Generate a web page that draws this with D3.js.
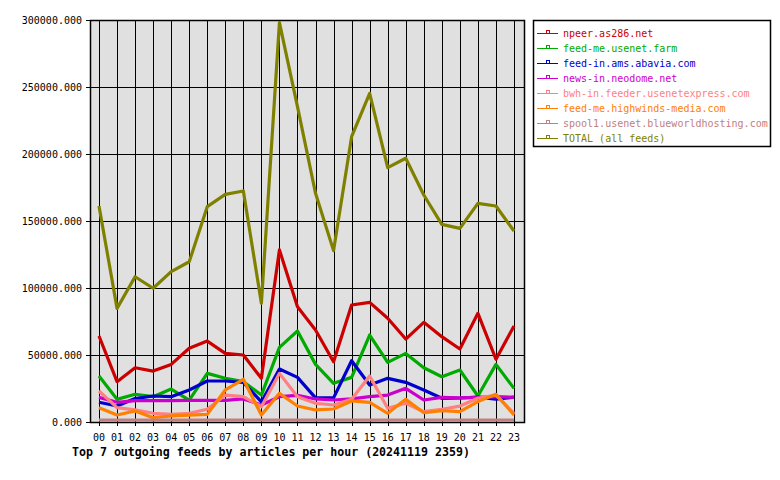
<!DOCTYPE html>
<html><head><meta charset="utf-8">
<script src="https://cdn.jsdelivr.net/npm/d3@7"></script>
<style>body{margin:0;background:#fff}svg{display:block}text{font-family:"DejaVu Sans Mono",monospace}</style>
</head><body><svg id="c" width="780" height="480"></svg>
<script>
const hours = ["00","01","02","03","04","05","06","07","08","09","10","11","12","13","14","15","16","17","18","19","20","21","22","23"];
const yTicks = [0,50000,100000,150000,200000,250000,300000];
const seriesNames = ["npeer.as286.net","feed-me.usenet.farm","feed-in.ams.abavia.com","news-in.neodome.net","bwh-in.feeder.usenetexpress.com","feed-me.highwinds-media.com","spool1.usenet.blueworldhosting.com","TOTAL (all feeds)"];
const seriesColors = ["#cc0000","#00aa00","#0000cc","#cc00cc","#ff8080","#ff8000","#c08080","#808000"];
const npeer = [64200,30100,40500,38000,43000,55000,60400,51200,50000,32600,128400,86000,68700,45000,87300,89300,77400,61900,74400,63700,54500,81100,46800,71600];
const feedMeFarm = [34300,16900,20700,18900,24600,16400,36300,32600,30100,20100,55700,67900,43000,28900,33300,64900,44500,51200,40500,33800,38800,19400,43000,25100];
const abavia = [14700,11900,17500,19400,18900,23900,30600,30600,29500,15000,39500,33300,18000,18000,45700,27600,32600,29600,23900,17700,17900,18500,17000,18500];
const neodome = [18400,14700,15900,15900,15900,16200,16200,16200,17200,12700,18900,19900,17200,16400,17200,18900,20100,25100,16400,18400,18000,18400,18900,18400];
const usenetexpress = [23100,10700,9000,6500,5700,6500,9500,20100,18900,11400,36300,18900,14000,12700,16900,34300,10200,14000,7700,9500,11900,17700,20100,6500];
const highwinds = [10700,5200,8200,3200,4500,5200,5700,23900,31900,5200,21400,11900,9000,9700,15700,14700,6500,16900,6900,8400,7700,15200,20700,5200];
const spool1 = [1500,1500,1500,1500,1500,1500,1500,1500,1500,1500,1500,1500,1500,1500,1500,1500,1500,1500,1500,1500,1500,1500,1500,1500];
const total = [161200,84800,108400,99800,112200,119600,160700,169900,172400,88600,298000,235300,170700,127900,212900,245300,189800,196800,169400,147500,144500,163200,161200,142500];
const title = "Top 7 outgoing feeds by articles per hour (20241119 2359)";
const allSeries = [npeer,feedMeFarm,abavia,neodome,usenetexpress,highwinds,spool1,total];

const svg = d3.select("#c");
const L = 90, R = 524, T = 20, B = 422;
const x = d3.scalePoint().domain(hours).range([99, 514]);
const y = d3.scaleLinear().domain([0,300000]).range([B, T]);

svg.append("rect").attr("x",L).attr("y",T).attr("width",R-L).attr("height",B-T).attr("fill","#e0e0e0");
svg.append("g").selectAll("line").data(hours).join("line")
  .attr("x1",d=>Math.round(x(d))+0.5).attr("x2",d=>Math.round(x(d))+0.5).attr("y1",T).attr("y2",B+4)
  .attr("stroke","#000").attr("stroke-width",1).attr("shape-rendering","crispEdges");
svg.append("g").selectAll("line").data(yTicks).join("line")
  .attr("x1",L-4).attr("x2",R).attr("y1",d=>Math.round(y(d))+0.5).attr("y2",d=>Math.round(y(d))+0.5)
  .attr("stroke","#000").attr("stroke-width",1).attr("shape-rendering","crispEdges");
svg.append("rect").attr("x",L+0.5).attr("y",T+0.5).attr("width",R-L).attr("height",B-T)
  .attr("fill","none").attr("stroke","#000").attr("stroke-width",1.5);

svg.append("g").selectAll("text").data(yTicks).join("text")
  .attr("x",82).attr("y",d=>y(d)+4).attr("text-anchor","end").attr("font-size",10).text(d=>d3.format(".3f")(d));
svg.append("g").selectAll("text").data(hours).join("text")
  .attr("x",d=>x(d)).attr("y",441).attr("text-anchor","middle").attr("font-size",10).text(d=>d);
svg.append("text").attr("x",72).attr("y",456).attr("font-size",11.6).attr("font-weight","bold").text(title);

const line = d3.line().x((d,i)=>x(hours[i])).y(d=>y(d));
allSeries.forEach((s,k)=>{
  svg.append("path").datum(s).attr("d",line).attr("fill","none")
    .attr("stroke",seriesColors[k]).attr("stroke-width",3.2).attr("stroke-linejoin","round");
});

svg.append("rect").attr("x",533.5).attr("y",20.5).attr("width",237).attr("height",126)
  .attr("fill","#fff").attr("stroke","#000").attr("stroke-width",1.5);
const lg = svg.append("g").selectAll("g").data(seriesNames).join("g")
  .attr("transform",(d,i)=>`translate(0,${33+i*15})`);
lg.append("line").attr("x1",537).attr("x2",558).attr("y1",0.5).attr("y2",0.5)
  .attr("stroke",(d,i)=>seriesColors[i]).attr("stroke-width",1);
lg.append("rect").attr("x",546.5).attr("y",-2.5).attr("width",3).attr("height",3)
  .attr("fill","none").attr("stroke",(d,i)=>seriesColors[i]).attr("stroke-width",1);
lg.append("text").attr("x",563).attr("y",4).attr("font-size",10)
  .attr("fill",(d,i)=>seriesColors[i]).text(d=>d);
</script></body></html>
